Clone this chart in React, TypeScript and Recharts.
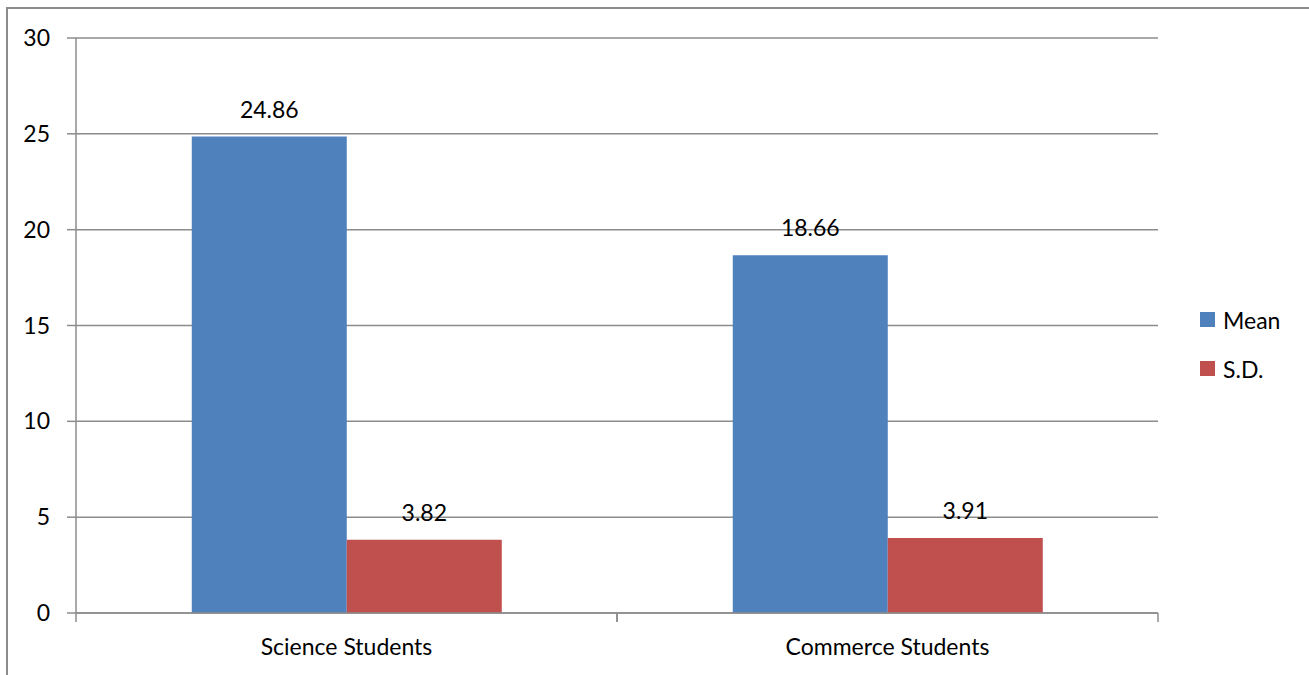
import { BarChart, Bar, XAxis, YAxis, CartesianGrid, Legend, LabelList } from "recharts";

// values
const groups = ["Science Students", "Commerce Students"];
const meanValues = [24.86, 18.66];
const sdValues = [3.82, 3.91];
const yTicks = [0, 5, 10, 15, 20, 25, 30];

const seriesNames = ["Mean", "S.D."];
const seriesColors = ["#4F81BD", "#C0504D"];

const data = groups.map((g, i) => ({
  group: g,
  mean: meanValues[i],
  sd: sdValues[i],
}));

const FONT = "Lato, 'Open Sans', sans-serif";
const AXIS = "#8c8c8c";
const PLOT_W = 1082;
const HALF_BAND = PLOT_W / groups.length / 2;

// category boundary ticks (Excel style) + centered label
function GroupTick(props: any) {
  const { x, y, payload } = props;
  return (
    <g>
      <line x1={x - HALF_BAND} y1={y} x2={x - HALF_BAND} y2={y + 9} stroke={AXIS} strokeWidth={1.5} />
      <line x1={x + HALF_BAND} y1={y} x2={x + HALF_BAND} y2={y + 9} stroke={AXIS} strokeWidth={1.5} />
      <text x={x} y={y + 42} textAnchor="middle" fill="#000" fontSize={23} fontFamily={FONT}>
        {payload.value}
      </text>
    </g>
  );
}

function LegendBox() {
  return (
    <div style={{ fontFamily: FONT, fontSize: 23, color: "#000" }}>
      {seriesNames.map((name, i) => (
        <div key={name} style={{ display: "flex", alignItems: "center", height: 49 }}>
          <span style={{ width: 15, height: 15, background: seriesColors[i], display: "inline-block", marginRight: 8 }} />
          <span>{name}</span>
        </div>
      ))}
    </div>
  );
}

export default function App() {
  return (
    <div style={{ position: "absolute", left: 0, top: 0, width: 1309, height: 675, background: "#fff", overflow: "hidden" }}>
      <div
        style={{
          position: "absolute",
          left: 6,
          top: 7,
          width: 1400,
          height: 700,
          borderLeft: `2px solid ${AXIS}`,
          borderTop: `2px solid ${AXIS}`,
        }}
      />
      <BarChart
        width={1309}
        height={675}
        data={data}
        margin={{ top: 38, right: 151, bottom: 0, left: 0 }}
        barCategoryGap="21.4%"
        barGap={0}
        style={{ position: "absolute", left: 0, top: 0 }}
      >
        <CartesianGrid vertical={false} stroke={AXIS} strokeWidth={1.5} />
        <XAxis
          dataKey="group"
          height={62}
          axisLine={{ stroke: AXIS, strokeWidth: 1.5 }}
          tickLine={false}
          tickSize={0}
          tickMargin={0}
          tick={<GroupTick />}
          interval={0}
        />
        <YAxis
          width={76}
          domain={[0, 30]}
          ticks={yTicks}
          interval={0}
          axisLine={{ stroke: AXIS, strokeWidth: 1.5 }}
          tickLine={{ stroke: AXIS, strokeWidth: 1.5 }}
          tickSize={9}
          tickMargin={17}
          tick={{ fill: "#000", fontSize: 23, fontFamily: FONT }}
        />
        <Legend
          layout="vertical"
          align="center"
          verticalAlign="middle"
          content={<LegendBox />}
          wrapperStyle={{ left: 1200, top: 295, width: 120, height: 100 }}
        />
        <Bar dataKey="mean" name={seriesNames[0]} fill={seriesColors[0]} isAnimationActive={false}>
          <LabelList dataKey="mean" position="top" offset={19} fill="#000" fontSize={23} fontFamily={FONT} />
        </Bar>
        <Bar dataKey="sd" name={seriesNames[1]} fill={seriesColors[1]} isAnimationActive={false}>
          <LabelList dataKey="sd" position="top" offset={19} fill="#000" fontSize={23} fontFamily={FONT} />
        </Bar>
      </BarChart>
    </div>
  );
}
